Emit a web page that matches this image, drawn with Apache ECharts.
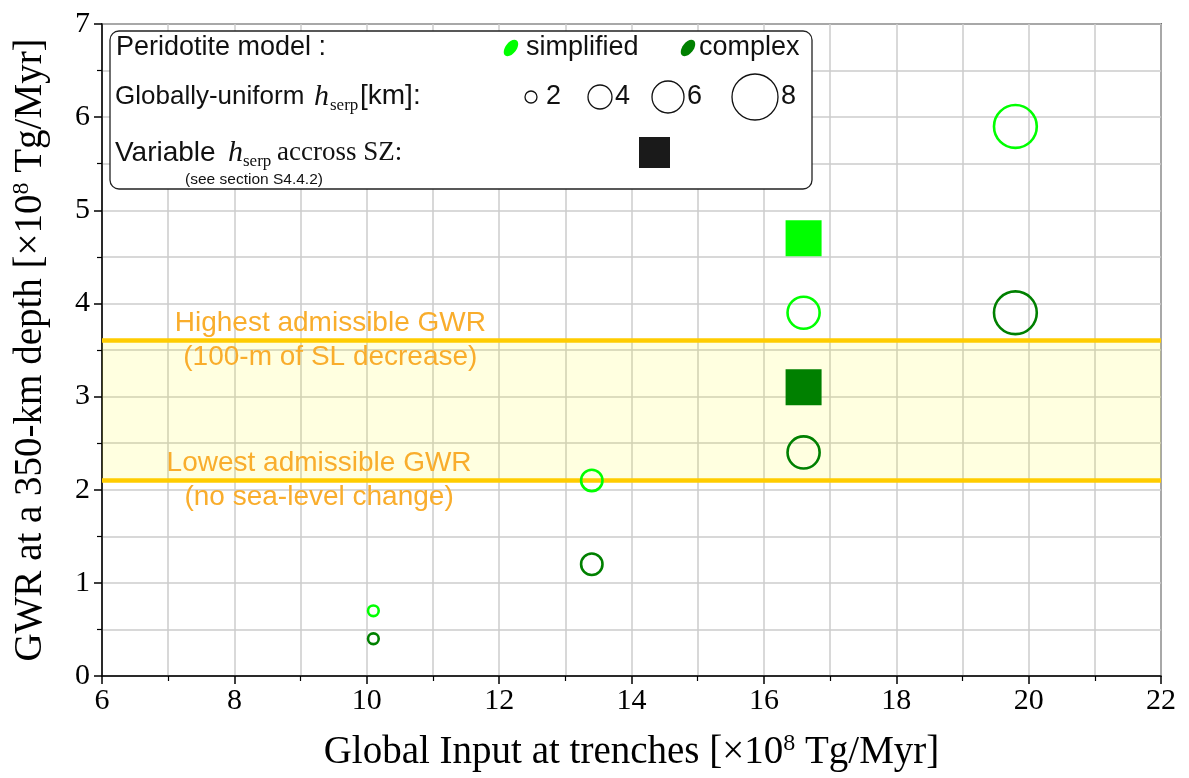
<!DOCTYPE html>
<html>
<head>
<meta charset="utf-8">
<script src="https://cdn.jsdelivr.net/npm/echarts@6/dist/echarts.min.js"></script>
<style>
html,body{margin:0;padding:0;background:#fff;}
#chart{width:1189px;height:778px;}
</style>
</head>
<body>
<div id="chart"></div>
<script>
// ---- data ----
const hSerp = [2, 4, 6, 8];
const inputUniform = [10.1, 13.4, 16.6, 19.8];
const gwrSimplified = [0.7, 2.1, 3.9, 5.9];
const gwrComplex = [0.4, 1.2, 2.4, 3.9];
const inputVariable = [16.6];
const gwrVariableSimplified = [4.7];
const gwrVariableComplex = [3.1];
const gwrLowest = 2.1;
const gwrHighest = 3.6;
const xTickRange = [6, 22];
const yTickRange = [0, 7];

// ---- styles ----
const LIME = '#00ff00';
const GREEN = '#008000';
const GOLD = '#ffcc00';
const ORANGE = '#f9ad2c';
const GRIDC = '#cccccc';
const SERIF = '"Liberation Serif", "DejaVu Serif", serif';
const SANS = '"Liberation Sans", Arial, sans-serif';
const sizeOf = h => h * 5.35;

const chart = echarts.init(document.getElementById('chart'), null, {renderer: 'canvas'});

function circles(ys, color, name) {
  return {
    name: name,
    type: 'scatter',
    z: 5,
    symbol: 'circle',
    data: inputUniform.map((x, i) => [x, ys[i], hSerp[i]]),
    symbolSize: v => sizeOf(v[2]),
    itemStyle: {color: 'rgba(0,0,0,0)', borderColor: color, borderWidth: 2.6, opacity: 1},
    emphasis: {disabled: true}
  };
}
function squares(ys, color, name) {
  return {
    name: name,
    type: 'scatter',
    z: 5,
    symbol: 'rect',
    symbolSize: 36,
    data: inputVariable.map((x, i) => [x, ys[i]]),
    itemStyle: {color: color, opacity: 1},
    emphasis: {disabled: true}
  };
}

const axisCommon = {
  type: 'value',
  axisLine: {show: true, onZero: false, lineStyle: {color: '#000', width: 1.5}},
  axisTick: {show: true, inside: false, length: 8, lineStyle: {color: '#000', width: 1.5}},
  minorTick: {show: true, splitNumber: 2, length: 5, lineStyle: {color: '#000', width: 1.2}},
  splitLine: {show: true, lineStyle: {color: GRIDC, width: 1.5}},
  minorSplitLine: {show: true, lineStyle: {color: GRIDC, width: 1.5}},
  nameLocation: 'middle'
};

const LF = '27px ' + SANS;
const INK = '#111';
function txt(x, y, text, font, extra) {
  return {type: 'text', style: Object.assign({x: x, y: y, text: text, font: font, fill: INK, verticalAlign: 'middle'}, extra || {})};
}
const legendRowY = [48, 97, 153];
const legendChildren = [
    {type: 'rect', shape: {x: 110, y: 31, width: 702, height: 158, r: 9},
     style: {fill: '#fff', stroke: '#222', lineWidth: 1.3}},
    txt(116, legendRowY[0], 'Peridotite model :', LF),
    {type: 'ellipse', x: 511, y: legendRowY[0], rotation: -0.65, shape: {cx: 0, cy: 0, rx: 5.5, ry: 9.5}, style: {fill: LIME}},
    txt(526, legendRowY[0], 'simplified', LF),
    {type: 'ellipse', x: 688, y: legendRowY[0], rotation: -0.65, shape: {cx: 0, cy: 0, rx: 5.5, ry: 9.5}, style: {fill: GREEN}},
    txt(699, legendRowY[0], 'complex', LF),
    // row 2
    txt(115, legendRowY[1], 'Globally-uniform', '26px ' + SANS),
    txt(314, legendRowY[1], 'h', 'italic 30px ' + SERIF),
    txt(330, legendRowY[1] + 9, 'serp', '17px ' + SERIF),
    txt(360, legendRowY[1] - 1, '[km]:', '28px ' + SANS),
    {type: 'circle', shape: {cx: 531, cy: legendRowY[1], r: 6}, style: {fill: 'none', stroke: INK, lineWidth: 1.3}},
    txt(546, legendRowY[1], '2', LF),
    {type: 'circle', shape: {cx: 600, cy: legendRowY[1], r: 12}, style: {fill: 'none', stroke: INK, lineWidth: 1.3}},
    txt(615, legendRowY[1], '4', LF),
    {type: 'circle', shape: {cx: 668, cy: legendRowY[1], r: 16}, style: {fill: 'none', stroke: INK, lineWidth: 1.3}},
    txt(687, legendRowY[1], '6', LF),
    {type: 'circle', shape: {cx: 755, cy: legendRowY[1], r: 23}, style: {fill: 'none', stroke: INK, lineWidth: 1.3}},
    txt(781, legendRowY[1], '8', LF),
    // row 3
    txt(115, legendRowY[2], 'Variable', '28px ' + SANS),
    txt(228, legendRowY[2], 'h', 'italic 30px ' + SERIF),
    txt(243, legendRowY[2] + 9, 'serp', '17px ' + SERIF),
    txt(277, legendRowY[2], 'accross SZ:', '27px ' + SERIF),
    {type: 'rect', shape: {x: 639, y: 137, width: 31, height: 31}, style: {fill: '#1a1a1a'}},
    txt(254, 180, '(see section S4.4.2)', '15.5px ' + SANS, {align: 'center'})
];
legendChildren.forEach(c => { c.z = 100; });

const option = {
  backgroundColor: '#fff',
  animation: false,
  grid: {left: 102, right: 28, top: 24, bottom: 102, show: true, borderColor: '#000', borderWidth: 1.5, backgroundColor: '#fff'},
  xAxis: Object.assign({}, axisCommon, {
    min: xTickRange[0], max: xTickRange[1], interval: 2,
    axisLabel: {color: '#000', fontFamily: SERIF, fontSize: 30, margin: 10},
    name: '{t|Global Input at trenches [×10}{u|8}{t| Tg/Myr]}',
    nameGap: 56,
    nameTextStyle: {
      rich: {
        t: {fontFamily: SERIF, fontSize: 39, color: '#000', lineHeight: 42, verticalAlign: 'middle'},
        u: {fontFamily: SERIF, fontSize: 24, color: '#000', lineHeight: 42, verticalAlign: 'top'}
      }
    }
  }),
  yAxis: Object.assign({}, axisCommon, {
    min: yTickRange[0], max: yTickRange[1], interval: 1,
    axisLabel: {color: '#000', fontFamily: SERIF, fontSize: 30, margin: 12},
    name: '{t|GWR at a 350-km depth [×10}{u|8}{t| Tg/Myr]}',
    nameGap: 50,
    nameTextStyle: {
      rich: {
        t: {fontFamily: SERIF, fontSize: 39, color: '#000', lineHeight: 42, verticalAlign: 'middle'},
        u: {fontFamily: SERIF, fontSize: 24, color: '#000', lineHeight: 42, verticalAlign: 'top'}
      }
    }
  }),
  graphic: legendChildren,
  series: [
    {
      type: 'scatter',
      name: 'bounds',
      z: 2,
      data: [],
      silent: true,
      markArea: {
        silent: true,
        itemStyle: {color: 'rgba(255,255,0,0.12)'},
        data: [[{yAxis: gwrLowest}, {yAxis: gwrHighest}]]
      },
      markLine: {
        silent: true,
        symbol: 'none',
        label: {show: false},
        lineStyle: {color: GOLD, width: 4.5, type: 'solid'},
        data: [{yAxis: gwrHighest}, {yAxis: gwrLowest}]
      },
      markPoint: {
        silent: true,
        symbol: 'circle',
        symbolSize: 1,
        itemStyle: {color: 'rgba(0,0,0,0)'},
        label: {show: true, position: 'inside', color: ORANGE, fontFamily: SANS, fontSize: 28, lineHeight: 34, align: 'center'},
        data: [
          {coord: [9.45, gwrHighest], label: {formatter: 'Highest admissible GWR\n(100-m of SL decrease)'}},
          {coord: [9.28, gwrLowest], label: {formatter: 'Lowest admissible GWR\n(no sea-level change)'}}
        ]
      }
    },
    circles(gwrSimplified, LIME, 'simplified uniform'),
    circles(gwrComplex, GREEN, 'complex uniform'),
    squares(gwrVariableSimplified, LIME, 'simplified variable'),
    squares(gwrVariableComplex, GREEN, 'complex variable')
  ]
};
chart.setOption(option);
</script>
</body>
</html>
